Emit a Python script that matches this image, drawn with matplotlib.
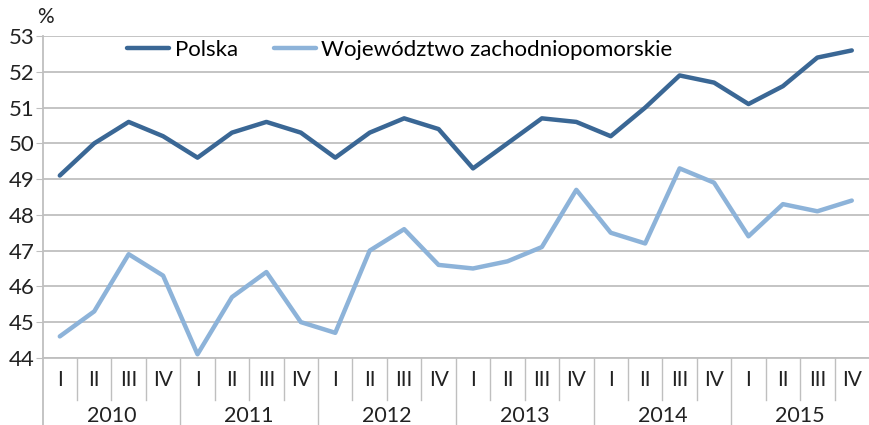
import matplotlib
matplotlib.use("Agg")
import matplotlib.pyplot as plt
import matplotlib.transforms as mtransforms

plt.rcParams['font.family'] = ['Lato', 'DejaVu Sans']

# dane kwartalne 2010-2015
years = ['2010', '2011', '2012', '2013', '2014', '2015']
quarters = ['I', 'II', 'III', 'IV']
polska = [49.1, 50.0, 50.6, 50.2, 49.6, 50.3, 50.6, 50.3,
          49.6, 50.3, 50.7, 50.4, 49.3, 50.0, 50.7, 50.6,
          50.2, 51.0, 51.9, 51.7, 51.1, 51.6, 52.4, 52.6]
zachodniopomorskie = [44.6, 45.3, 46.9, 46.3, 44.1, 45.7, 46.4, 45.0,
                      44.7, 47.0, 47.6, 46.6, 46.5, 46.7, 47.1, 48.7,
                      47.5, 47.2, 49.3, 48.9, 47.4, 48.3, 48.1, 48.4]
y_ticks = [44, 45, 46, 47, 48, 49, 50, 51, 52, 53]

grid_col = '#BFBFBF'
txt_col = '#222222'
x = list(range(len(polska)))

fig = plt.figure(figsize=(8.69, 4.25), dpi=100)
ax = fig.add_axes([0.049, 0.158, 0.951, 0.757])

ax.plot(x, polska, color='#3A6795', linewidth=3.2, label='Polska', solid_capstyle='round')
ax.plot(x, zachodniopomorskie, color='#8DB3D9', linewidth=3.2,
        label='Województwo zachodniopomorskie', solid_capstyle='round')

ax.set_xlim(-0.5, len(x) - 0.5)
ax.set_ylim(44, 53)
ax.set_yticks(y_ticks)
ax.tick_params(axis='y', labelsize=16, length=5, color=grid_col, pad=1, labelcolor=txt_col)
ax.set_xticks([])
ax.grid(axis='y', color=grid_col, linewidth=1.3)
ax.set_axisbelow(True)
for s in ['top', 'right']:
    ax.spines[s].set_visible(False)
ax.spines['bottom'].set_color(grid_col)
ax.spines['bottom'].set_linewidth(1.3)
ax.spines['left'].set_color(grid_col)
ax.spines['left'].set_linewidth(1.3)
ax.spines['left'].set_bounds(44, 53)

ax.text(-0.006, 1.04, '%', transform=ax.transAxes, fontsize=15, color=txt_col)

# os kategorii: kwartaly i lata
trans = mtransforms.blended_transform_factory(ax.transData, ax.transAxes)
ax_h = 0.757 * 425
q_bottom = -42 / ax_h
y_bottom = -67 / ax_h
ax.plot([-0.5, -0.5], [0, y_bottom], color=grid_col, lw=1.3, transform=trans, clip_on=False)
for i in range(len(x)):
    ax.text(i, -22 / ax_h, quarters[i % 4], transform=trans, ha='center', va='center',
            fontsize=15, color=txt_col)
    if i > 0:
        low = y_bottom if i % 4 == 0 else q_bottom
        ax.plot([i - 0.5, i - 0.5], [0, low], color=grid_col, lw=1.0, transform=trans, clip_on=False)
for j, yr in enumerate(years):
    ax.text(j * 4 + 1.5, -58 / ax_h, yr, transform=trans, ha='center', va='center',
            fontsize=15.5, color=txt_col)

ax.legend(loc='upper left', bbox_to_anchor=(0.078, 1.05), ncol=2, frameon=False,
          fontsize=16, handlelength=1.9, columnspacing=1.6, handletextpad=0.25)

plt.savefig('out.png', dpi=100)
